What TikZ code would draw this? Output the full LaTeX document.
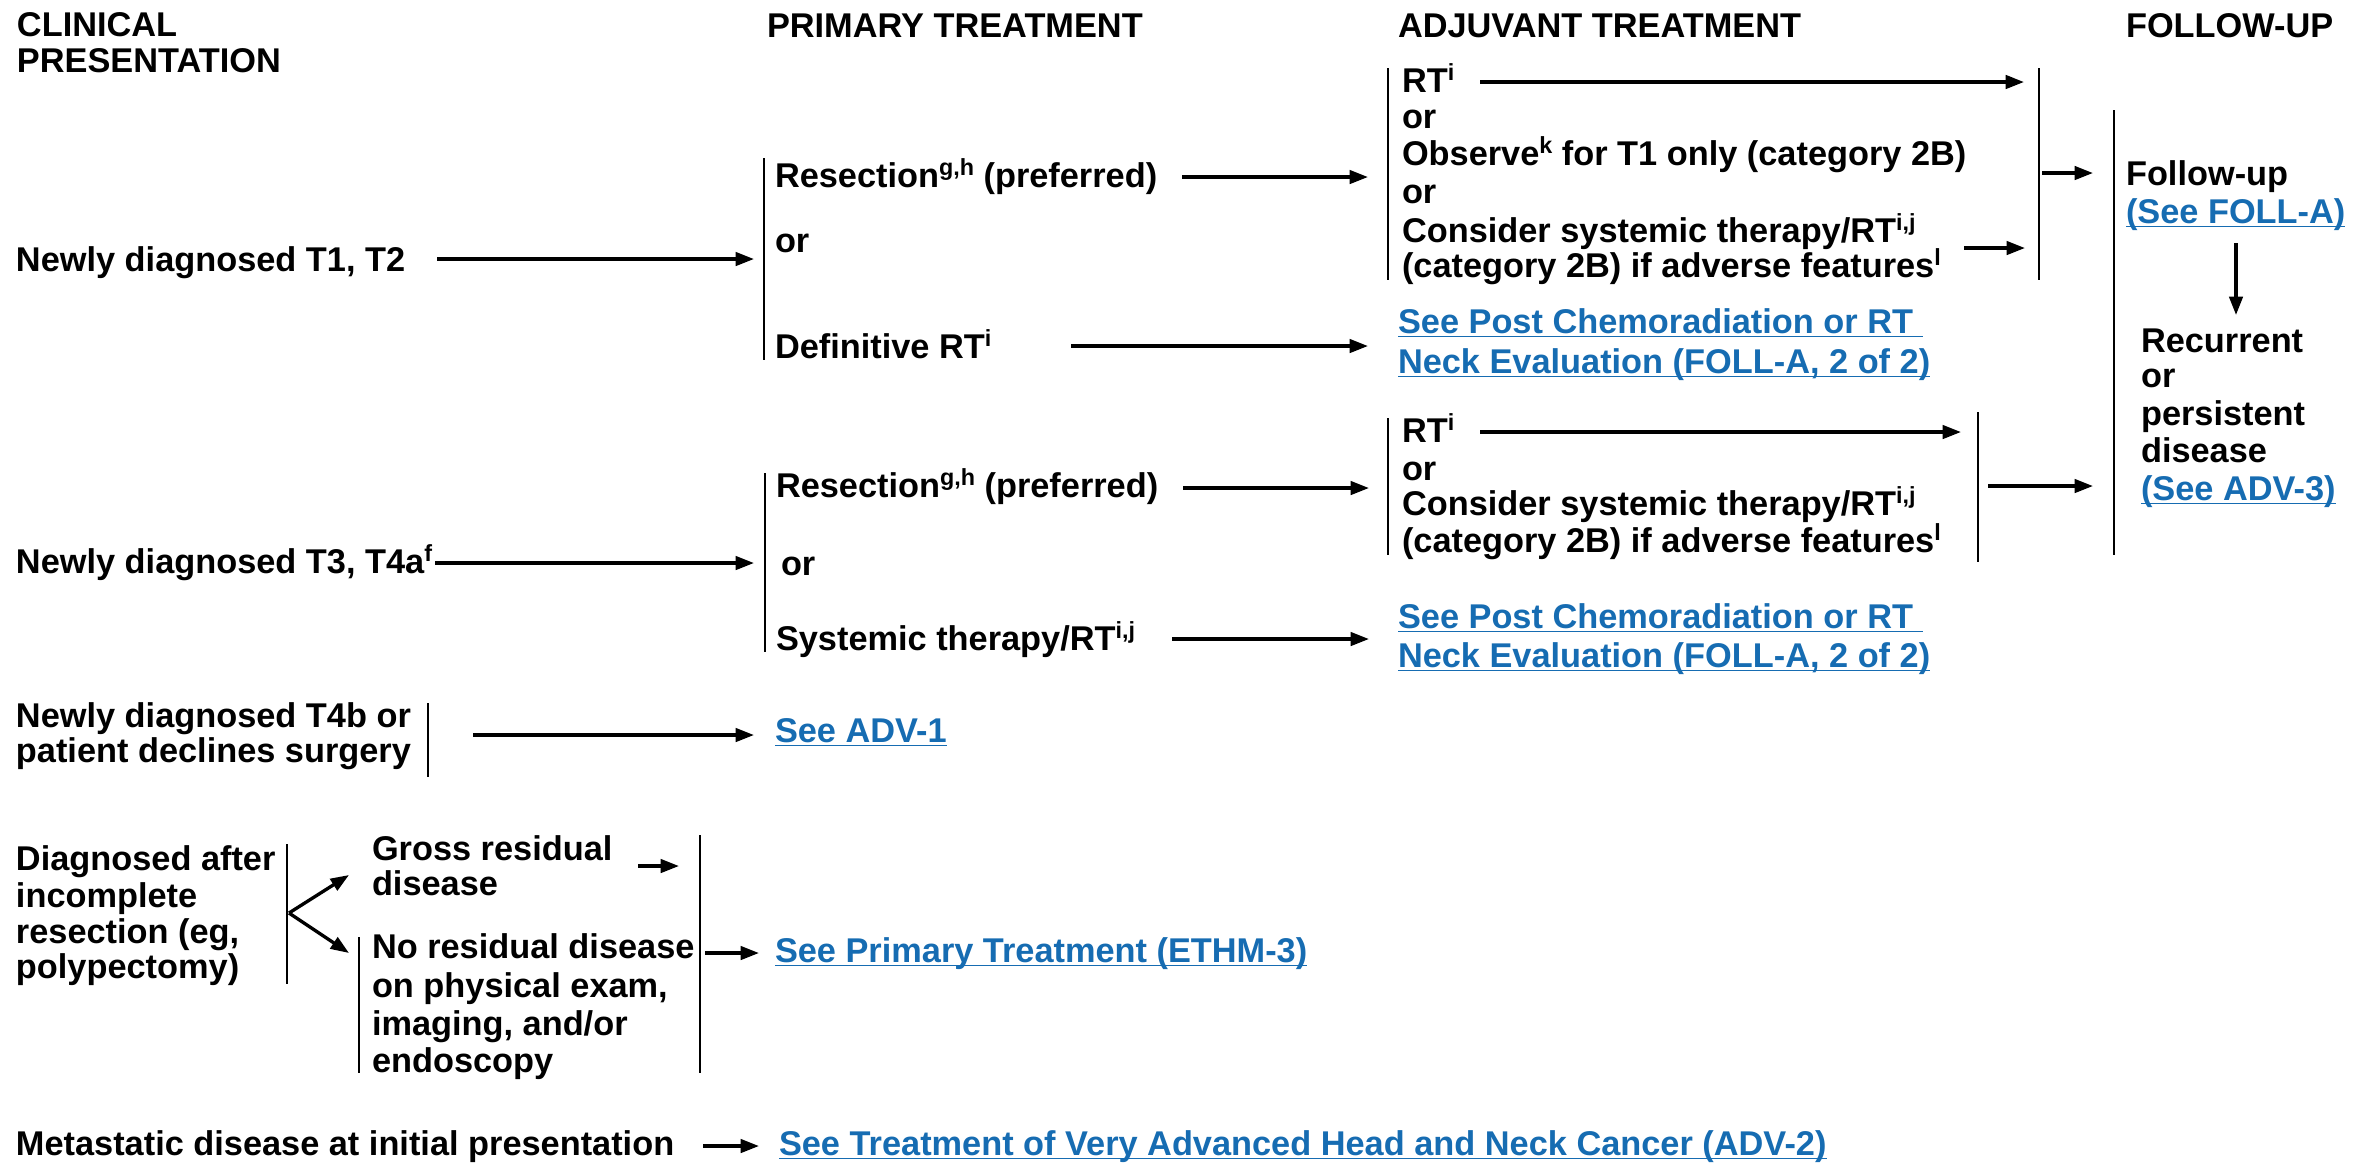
\documentclass[tikz,border=0pt]{standalone}
\usepackage{fontspec}
\setmainfont{Liberation Sans}
\usetikzlibrary{arrows.meta}
\definecolor{linkblue}{RGB}{22,108,178}
\newcommand\sps[1]{\raisebox{3.6pt}{\fontsize{7}{7}\selectfont #1}}
\newsavebox\lkbox
\newcommand\lk[1]{\sbox\lkbox{#1}\rlap{\vrule width \wd\lkbox height -0.8pt depth 1.3pt}\usebox\lkbox}
\begin{document}
\begin{tikzpicture}[x=0.3pt,y=-0.3pt,
  txt/.style={anchor=base west, inner sep=0pt, outer sep=0pt, font=\bfseries\fontsize{10.3}{11}\selectfont},
  lnk/.style={txt, text=linkblue},
  arr/.style={line width=1pt, -{Triangle[length=5.5pt,width=4pt]}},
  brk/.style={line width=0.6pt}]
\useasboundingbox[fill=white] (0,0) rectangle (2363,1164);

% headers
\node[txt] (h1a) at (17,36) {CLINICAL};
\node[txt] (h1b) at (17,72) {PRESENTATION};
\node[txt] (h2) at (767,37) {PRIMARY TREATMENT};
\node[txt] (h3) at (1398,37) {ADJUVANT TREATMENT};
\node[txt] (h4) at (2126,37) {FOLLOW-UP};

% ---------- row 1
\node[txt] (c1) at (16,271) {Newly diagnosed T1, T2};
\coordinate (a1s) at (437,259); \coordinate (a1e) at (754,259);
\draw[arr] (a1s) -- (a1e);
\coordinate (bp1t) at (764,158); \coordinate (bp1b) at (764,360);
\draw[brk] (bp1t) -- (bp1b);
\node[txt] (p1a) at (775,187) {Resection\sps{g,h} (preferred)};
\node[txt] (p1b) at (775,252) {or};
\node[txt] (p1c) at (775,358) {Definitive RT\sps{i}};
\coordinate (a2s) at (1182,177); \coordinate (a2e) at (1368,177);
\draw[arr] (a2s) -- (a2e);
\coordinate (a3s) at (1071,346); \coordinate (a3e) at (1368,346);
\draw[arr] (a3s) -- (a3e);

\coordinate (ba1t) at (1388,68); \coordinate (ba1b) at (1388,280);
\draw[brk] (ba1t) -- (ba1b);
\node[txt] (j1a) at (1402,92) {RT\sps{i}};
\node[txt] (j1b) at (1402,128) {or};
\node[txt] (j1c) at (1402,165) {Observe\sps{k} for T1 only (category 2B)};
\node[txt] (j1d) at (1402,203) {or};
\node[txt] (j1e) at (1402,242) {Consider systemic therapy/RT\sps{i,j}};
\node[txt] (j1f) at (1402,277) {(category 2B) if adverse features\sps{l}};
\coordinate (a4s) at (1480,82); \coordinate (a4e) at (2024,82);
\draw[arr] (a4s) -- (a4e);
\coordinate (a5s) at (1964,248); \coordinate (a5e) at (2025,248);
\draw[arr] (a5s) -- (a5e);
\coordinate (br1t) at (2039,68); \coordinate (br1b) at (2039,280);
\draw[brk] (br1t) -- (br1b);
\coordinate (a6s) at (2042,173); \coordinate (a6e) at (2093,173);
\draw[arr] (a6s) -- (a6e);

\node[lnk] (l1a) at (1398,333) {\lk{See Post Chemoradiation or RT\ }};
\node[lnk] (l1b) at (1398,373) {\lk{Neck Evaluation (FOLL-A, 2 of 2)}};

% follow-up
\coordinate (bft) at (2114,110); \coordinate (bfb) at (2114,555);
\draw[brk] (bft) -- (bfb);
\node[txt] (f1) at (2126,185) {Follow-up};
\node[lnk] (f2) at (2126,223) {\lk{(See FOLL-A)}};
\coordinate (a7s) at (2236,243); \coordinate (a7e) at (2236,315);
\draw[arr] (a7s) -- (a7e);
\node[txt] (f3) at (2141,352) {Recurrent};
\node[txt] (f4) at (2141,387) {or};
\node[txt] (f5) at (2141,425) {persistent};
\node[txt] (f6) at (2141,462) {disease};
\node[lnk] (f7) at (2141,500) {\lk{(See ADV-3)}};

% ---------- row 2
\node[txt] (c2) at (16,573) {Newly diagnosed T3, T4a\sps{f}};
\coordinate (b1s) at (435,563); \coordinate (b1e) at (754,563);
\draw[arr] (b1s) -- (b1e);
\coordinate (bp2t) at (765,473); \coordinate (bp2b) at (765,652);
\draw[brk] (bp2t) -- (bp2b);
\node[txt] (p2a) at (776,497) {Resection\sps{g,h} (preferred)};
\node[txt] (p2b) at (781,575) {or};
\node[txt] (p2c) at (776,650) {Systemic therapy/RT\sps{i,j}};
\coordinate (b2s) at (1183,488); \coordinate (b2e) at (1369,488);
\draw[arr] (b2s) -- (b2e);
\coordinate (b3s) at (1172,639); \coordinate (b3e) at (1369,639);
\draw[arr] (b3s) -- (b3e);

\coordinate (ba2t) at (1388,418); \coordinate (ba2b) at (1388,555);
\draw[brk] (ba2t) -- (ba2b);
\node[txt] (j2a) at (1402,442) {RT\sps{i}};
\node[txt] (j2b) at (1402,480) {or};
\node[txt] (j2c) at (1402,515) {Consider systemic therapy/RT\sps{i,j}};
\node[txt] (j2d) at (1402,552) {(category 2B) if adverse features\sps{l}};
\coordinate (b4s) at (1480,432); \coordinate (b4e) at (1961,432);
\draw[arr] (b4s) -- (b4e);
\coordinate (br2t) at (1978,412); \coordinate (br2b) at (1978,562);
\draw[brk] (br2t) -- (br2b);
\coordinate (b5s) at (1988,486); \coordinate (b5e) at (2093,486);
\draw[arr] (b5s) -- (b5e);

\node[lnk] (l2a) at (1398,628) {\lk{See Post Chemoradiation or RT\ }};
\node[lnk] (l2b) at (1398,667) {\lk{Neck Evaluation (FOLL-A, 2 of 2)}};

% ---------- row 3
\node[txt] (c3a) at (16,727) {Newly diagnosed T4b or};
\node[txt] (c3b) at (16,762) {patient declines surgery};
\coordinate (bc3t) at (428,703); \coordinate (bc3b) at (428,777);
\draw[brk] (bc3t) -- (bc3b);
\coordinate (c3s) at (473,735); \coordinate (c3e) at (754,735);
\draw[arr] (c3s) -- (c3e);
\node[lnk] (l3) at (775,742) {\lk{See ADV-1}};

% ---------- row 4
\node[txt] (c4a) at (16,870) {Diagnosed after};
\node[txt] (c4b) at (16,907) {incomplete};
\node[txt] (c4c) at (16,943) {resection (eg,};
\node[txt] (c4d) at (16,978) {polypectomy)};
\coordinate (bc4t) at (287,844); \coordinate (bc4b) at (287,984);
\draw[brk] (bc4t) -- (bc4b);
\coordinate (fk) at (289,913);
\coordinate (fk1) at (349,875); \coordinate (fk2) at (349,953);
\draw[arr] (fk) -- (fk1);
\draw[arr] (fk) -- (fk2);
\node[txt] (g1) at (372,860) {Gross residual};
\node[txt] (g2) at (372,895) {disease};
\coordinate (d1s) at (638,866); \coordinate (d1e) at (679,866);
\draw[arr] (d1s) -- (d1e);
\coordinate (bnt) at (359,937); \coordinate (bnb) at (359,1073);
\draw[brk] (bnt) -- (bnb);
\node[txt] (n1) at (372,958) {No residual disease};
\node[txt] (n2) at (372,997) {on physical exam,};
\node[txt] (n3) at (372,1035) {imaging, and/or};
\node[txt] (n4) at (372,1072) {endoscopy};
\coordinate (bgt) at (700,835); \coordinate (bgb) at (700,1073);
\draw[brk] (bgt) -- (bgb);
\coordinate (d2s) at (705,953); \coordinate (d2e) at (759,953);
\draw[arr] (d2s) -- (d2e);
\node[lnk] (l4) at (775,962) {\lk{See Primary Treatment (ETHM-3)}};

% ---------- row 5
\node[txt] (c5) at (16,1155) {Metastatic disease at initial presentation};
\coordinate (e1s) at (703,1146); \coordinate (e1e) at (759,1146);
\draw[arr] (e1s) -- (e1e);
\node[lnk] (l5) at (779,1155) {\lk{See Treatment of Very Advanced Head and Neck Cancer (ADV-2)}};
\end{tikzpicture}
\end{document}
